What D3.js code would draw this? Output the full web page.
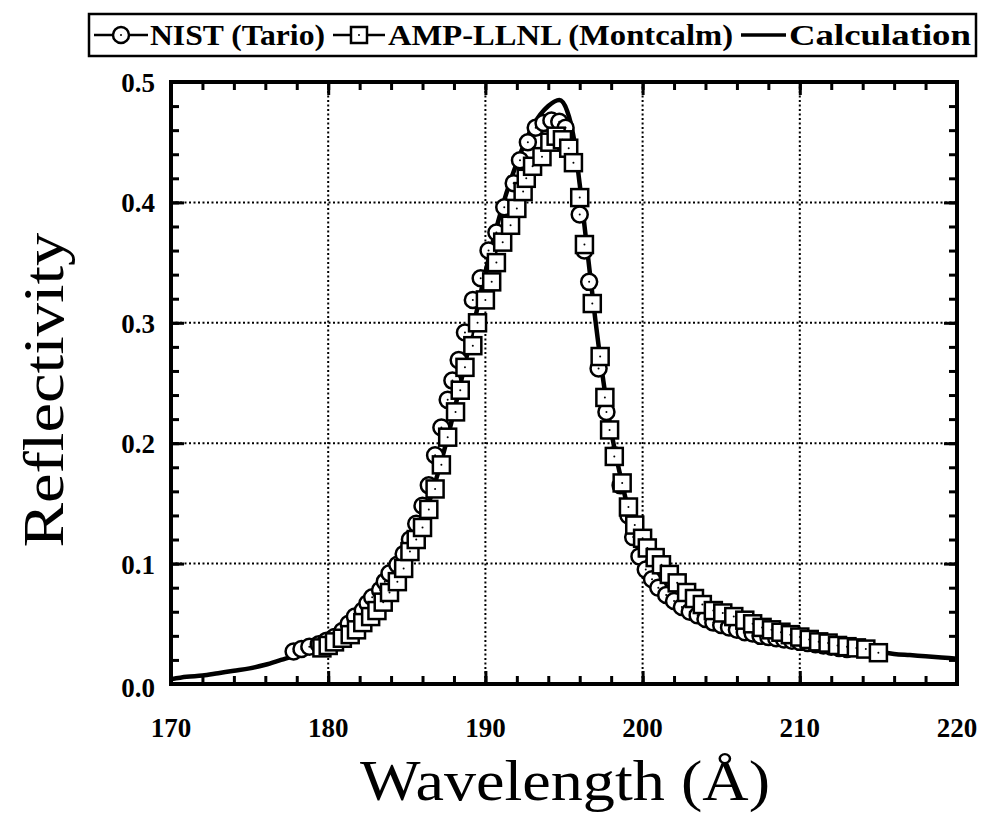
<!DOCTYPE html>
<html><head><meta charset="utf-8">
<script src="https://cdn.jsdelivr.net/npm/d3@7/dist/d3.min.js"></script>
<style>body{margin:0;background:#fff}svg{display:block}</style>
</head><body>
<svg id="c" width="983" height="815"></svg>
<script>
// Calculation curve
const calcX = [170,171,172,173,174,175,176,177,178,179,180,181,182,183,184,185,186,187,188,189,190,191,192,193,194,194.7,195.2,195.6,196,196.5,197,197.5,198,198.5,199,199.5,200,201,202,203,204,205,206,207,208,209,210,211,212,213,214,215,216,217,218,219,220];
const calcY = [0.004,0.006,0.007,0.009,0.011,0.013,0.016,0.020,0.024,0.029,0.035,0.043,0.053,0.066,0.083,0.105,0.135,0.176,0.226,0.283,0.342,0.393,0.433,0.463,0.480,0.485,0.476,0.455,0.415,0.358,0.302,0.252,0.210,0.178,0.150,0.129,0.112,0.089,0.075,0.065,0.058,0.052,0.048,0.044,0.041,0.038,0.036,0.034,0.032,0.030,0.028,0.027,0.025,0.024,0.023,0.022,0.021];
// NIST (Tario) - circles
const nistX = [177.8,178.3,178.8,179.4,179.9,180.4,180.9,181.3,181.7,182.2,182.5,182.8,183.3,183.6,183.9,184.4,184.8,185.2,185.6,186.0,186.4,186.8,187.2,187.6,187.9,188.3,188.7,189.2,189.7,190.2,190.7,191.2,191.8,192.2,192.7,193.2,193.7,194.2,194.7,195.1,196.0,196.3,196.6,197.2,197.7,198.2,198.6,199.1,199.4,199.8,200.2,200.6,201.0,201.5,202.0,202.5,203.0,203.5,204.0,204.5,205.0,205.5,206.0,206.5,207.0,207.5,208.0,208.5,209.0,209.5,210.0,210.5,211.0,211.5,212.0,212.5,213.0];
const nistY = [0.027,0.029,0.031,0.033,0.036,0.039,0.044,0.050,0.056,0.061,0.067,0.072,0.078,0.085,0.092,0.099,0.108,0.120,0.133,0.148,0.165,0.190,0.213,0.236,0.252,0.269,0.292,0.319,0.337,0.360,0.375,0.396,0.416,0.435,0.450,0.462,0.466,0.468,0.467,0.462,0.390,0.360,0.334,0.262,0.226,0.190,0.165,0.140,0.122,0.106,0.095,0.087,0.080,0.074,0.069,0.064,0.060,0.057,0.054,0.051,0.049,0.047,0.045,0.043,0.042,0.040,0.039,0.038,0.037,0.036,0.035,0.034,0.033,0.032,0.031,0.030,0.029];
// AMP-LLNL (Montcalm) - squares
const ampX = [179.6,180.0,180.4,180.9,181.4,181.8,182.2,182.7,183.1,183.5,183.9,184.4,184.8,185.2,185.6,186.0,186.4,186.8,187.2,187.6,188.1,188.4,188.7,189.2,189.5,190.0,190.4,190.7,191.1,191.6,192.0,192.4,192.6,193.0,193.6,194.1,194.5,194.9,195.3,195.6,196.0,196.3,196.8,197.3,197.6,197.9,198.2,198.7,199.1,199.5,200.0,200.3,200.8,201.2,201.7,202.2,202.8,203.3,203.8,204.5,205.1,205.8,206.5,207.0,207.6,208.2,208.8,209.4,210.0,210.6,211.2,211.8,212.4,213.0,213.6,214.2,215.0];
const ampY = [0.030,0.032,0.035,0.038,0.041,0.045,0.051,0.056,0.061,0.068,0.076,0.085,0.096,0.110,0.120,0.130,0.145,0.162,0.182,0.205,0.226,0.244,0.263,0.281,0.300,0.319,0.334,0.350,0.367,0.381,0.395,0.409,0.420,0.430,0.438,0.450,0.455,0.452,0.445,0.433,0.404,0.365,0.316,0.272,0.238,0.211,0.189,0.167,0.147,0.132,0.121,0.113,0.105,0.099,0.091,0.084,0.076,0.071,0.066,0.061,0.059,0.056,0.053,0.050,0.047,0.045,0.043,0.041,0.039,0.037,0.035,0.034,0.032,0.031,0.030,0.029,0.026];
const xTicks = [170,180,190,200,210,220];
const yTicks = [0.0,0.1,0.2,0.3,0.4,0.5];
const legendLabels = ["NIST (Tario)","AMP-LLNL (Montcalm)","Calculation"];

const L=171,R=957,T=82,B=684;
const x=d3.scaleLinear().domain([170,220]).range([L,R]);
const y=d3.scaleLinear().domain([0,0.5]).range([B,T]);
const svg=d3.select("#c");
const serif="Liberation Serif, Times New Roman, serif";

// grid
const g=svg.append("g");
g.selectAll(".gx").data(xTicks.slice(1,-1)).enter().append("line")
 .attr("x1",d=>x(d)).attr("x2",d=>x(d)).attr("y1",T).attr("y2",B)
 .attr("stroke","#000").attr("stroke-width",2).attr("stroke-dasharray","2,2.5");
g.selectAll(".gy").data(yTicks.slice(1,-1)).enter().append("line")
 .attr("y1",d=>y(d)).attr("y2",d=>y(d)).attr("x1",L).attr("x2",R)
 .attr("stroke","#000").attr("stroke-width",2).attr("stroke-dasharray","2,2.5");

// ticks via axes (inward)
const xMinor=d3.range(170,221,2), yMinor=d3.range(0,0.501,0.02);
function styleAxis(sel){sel.select(".domain").remove();sel.selectAll("text").remove();sel.selectAll("line").attr("stroke","#000").attr("stroke-width",3);}
svg.append("g").attr("transform",`translate(0,${B})`).call(d3.axisBottom(x).tickValues(xMinor).tickSize(-8)).call(styleAxis);
svg.append("g").attr("transform",`translate(0,${B})`).call(d3.axisBottom(x).tickValues(xTicks).tickSize(-13)).call(styleAxis);
svg.append("g").attr("transform",`translate(0,${T})`).call(d3.axisTop(x).tickValues(xMinor).tickSize(-8)).call(styleAxis);
svg.append("g").attr("transform",`translate(0,${T})`).call(d3.axisTop(x).tickValues(xTicks).tickSize(-13)).call(styleAxis);
svg.append("g").attr("transform",`translate(${L},0)`).call(d3.axisLeft(y).tickValues(yMinor).tickSize(-8)).call(styleAxis);
svg.append("g").attr("transform",`translate(${L},0)`).call(d3.axisLeft(y).tickValues(yTicks).tickSize(-13)).call(styleAxis);
svg.append("g").attr("transform",`translate(${R},0)`).call(d3.axisRight(y).tickValues(yMinor).tickSize(-8)).call(styleAxis);
svg.append("g").attr("transform",`translate(${R},0)`).call(d3.axisRight(y).tickValues(yTicks).tickSize(-13)).call(styleAxis);

// frame
svg.append("rect").attr("x",L).attr("y",T).attr("width",R-L).attr("height",B-T)
 .attr("fill","none").attr("stroke","#000").attr("stroke-width",4);

// tick labels
svg.selectAll(".xl").data(xTicks).enter().append("text")
 .attr("x",d=>x(d)).attr("y",B+53).attr("text-anchor","middle")
 .attr("font-family",serif).attr("font-weight","bold").attr("font-size",27).text(d=>d);
svg.selectAll(".yl").data(yTicks).enter().append("text")
 .attr("x",L-16).attr("y",d=>y(d)+(d===0?13:10)).attr("text-anchor","end")
 .attr("font-family",serif).attr("font-weight","bold").attr("font-size",27).text(d=>d3.format(".1f")(d));

// axis titles
svg.append("text").attr("transform","translate(63,390) rotate(-90)").attr("text-anchor","middle")
 .attr("font-family",serif).attr("font-size",58).attr("textLength",315).attr("lengthAdjust","spacingAndGlyphs").text("Reflectivity");
svg.append("text").attr("x",565).attr("y",800).attr("text-anchor","middle")
 .attr("font-family",serif).attr("font-size",56).attr("textLength",410).attr("lengthAdjust","spacingAndGlyphs").text("Wavelength (Å)");

// clip
svg.append("clipPath").attr("id","clip").append("rect").attr("x",L).attr("y",T-20).attr("width",R-L).attr("height",B-T+20);

// calculation line
const calc=calcX.map((v,i)=>[v,calcY[i]]);
svg.append("path").datum(calc).attr("clip-path","url(#clip)")
 .attr("d",d3.line().x(d=>x(d[0])).y(d=>y(d[1])).curve(d3.curveMonotoneX))
 .attr("fill","none").attr("stroke","#000").attr("stroke-width",4.5);

// NIST circles
const nist=nistX.map((v,i)=>[v,nistY[i]]);
const cg=svg.append("g");
cg.selectAll("circle.m").data(nist).enter().append("circle")
 .attr("cx",d=>x(d[0])).attr("cy",d=>y(d[1])).attr("r",8)
 .attr("fill","#fff").attr("stroke","#000").attr("stroke-width",2.5);
cg.selectAll("circle.d").data(nist).enter().append("circle")
 .attr("cx",d=>x(d[0])).attr("cy",d=>y(d[1])).attr("r",1).attr("fill","#000");

// AMP squares
const amp=ampX.map((v,i)=>[v,ampY[i]]);
const sg=svg.append("g");
const sq=sg.selectAll("g").data(amp).enter().append("g")
 .attr("transform",d=>`translate(${x(d[0])},${y(d[1])})`);
sq.append("rect").attr("x",-8.5).attr("y",-8.5).attr("width",17).attr("height",17)
 .attr("fill","#fff").attr("stroke","#000").attr("stroke-width",2.5);
sq.append("circle").attr("r",1).attr("fill","#000");

// legend
const lg=svg.append("g");
lg.append("rect").attr("x",89).attr("y",14).attr("width",887).attr("height",42)
 .attr("fill","#fff").attr("stroke","#000").attr("stroke-width",2.5);
const ly=35;
lg.append("line").attr("x1",94).attr("x2",148).attr("y1",ly).attr("y2",ly).attr("stroke","#000").attr("stroke-width",2.5);
lg.append("circle").attr("cx",121).attr("cy",ly).attr("r",8).attr("fill","#fff").attr("stroke","#000").attr("stroke-width",2.5);
lg.append("circle").attr("cx",121).attr("cy",ly).attr("r",1).attr("fill","#000");
lg.append("line").attr("x1",333).attr("x2",385).attr("y1",ly).attr("y2",ly).attr("stroke","#000").attr("stroke-width",2.5);
lg.append("rect").attr("x",351).attr("y",ly-8).attr("width",16).attr("height",16).attr("fill","#fff").attr("stroke","#000").attr("stroke-width",2.5);
lg.append("circle").attr("cx",359).attr("cy",ly).attr("r",1).attr("fill","#000");
lg.append("line").attr("x1",741).attr("x2",786).attr("y1",ly).attr("y2",ly).attr("stroke","#000").attr("stroke-width",3.5);
const lx=[150,388,789], lw=[175,345,182];
lg.selectAll("text").data(legendLabels).enter().append("text")
 .attr("x",(d,i)=>lx[i]).attr("y",45).attr("font-family",serif).attr("font-weight","bold").attr("font-size",30)
 .attr("textLength",(d,i)=>lw[i]).attr("lengthAdjust","spacingAndGlyphs").text(d=>d);
</script>
</body></html>
